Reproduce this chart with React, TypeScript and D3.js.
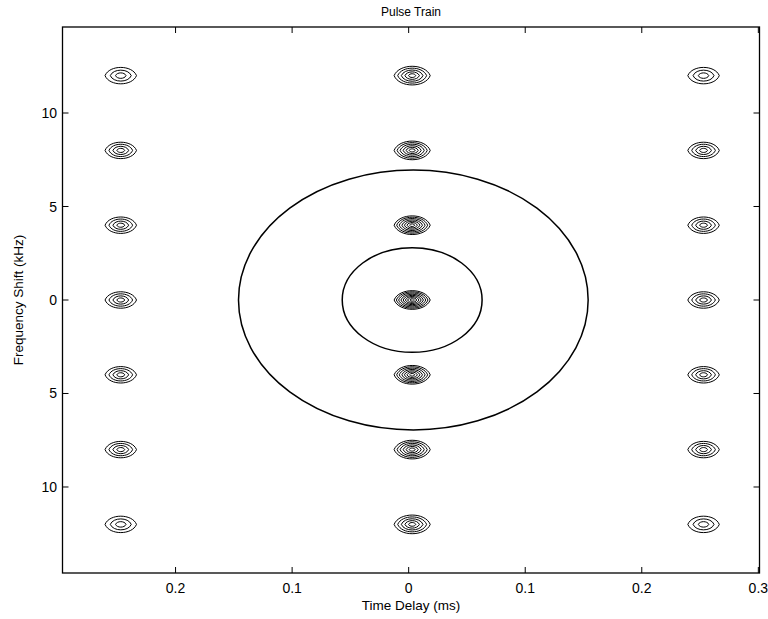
import React from "react";
import * as d3 from "d3";

// Pulse centers (time delay, ms) and frequency shifts (kHz)
const columnDelays = [-0.247, 0.003, 0.253];
const rowShifts = [12, 8, 4, 0, -4, -8, -12];
// Number of contour rings per eye: [column][row]
const ringCounts = [
  [3, 4, 4, 4, 4, 4, 3],
  [5, 6, 7, 8, 7, 6, 5],
  [3, 4, 4, 4, 4, 4, 3],
];
// Outer ring half-width (ms) and half-height (kHz) per column
const outerHalfWidth = [0.0135, 0.0155, 0.0135];
const outerHalfHeight = [0.44, 0.5, 0.44];

// Large contour ellipses: center delay, center shift, radius delay, radius shift
const ellipseCx = [0.004, 0.003];
const ellipseCy = [0, 0];
const ellipseRx = [0.15, 0.06];
const ellipseRy = [6.95, 2.8];

const xTicks = [-0.2, -0.1, 0, 0.1, 0.2, 0.3];
const xTickLabels = ["0.2", "0.1", "0", "0.1", "0.2", "0.3"];
const yTicks = [10, 5, 0, -5, -10];
const yTickLabels = ["10", "5", "0", "5", "10"];

const W = 768;
const H = 619;
const left = 62.5;
const right = 759.5;
const top = 27;
const bottom = 573;

export default function App() {
  const x = d3.scaleLinear().domain([-0.297, 0.301]).range([left, right]);
  const y = d3.scaleLinear().domain([-14.6, 14.6]).range([bottom, top]);
  const font = "'Liberation Sans', Arial, sans-serif";

  const eyePath = (cx: number, cy: number, hw: number, hh: number) => {
    const x0 = x(cx - hw);
    const x1 = x(cx + hw);
    const xc = x(cx);
    const yc = y(cy);
    const hpx = y(0) - y(hh);
    const p = d3.path();
    const k = 1.33;
    const c = 0.72;
    p.moveTo(x0, yc);
    p.bezierCurveTo(xc - (xc - x0) * c, yc - hpx * k, xc + (x1 - xc) * c, yc - hpx * k, x1, yc);
    p.bezierCurveTo(xc + (x1 - xc) * c, yc + hpx * k, xc - (xc - x0) * c, yc + hpx * k, x0, yc);
    p.closePath();
    return p.toString();
  };

  const eyes: JSX.Element[] = [];
  columnDelays.forEach((cx, ci) => {
    rowShifts.forEach((cy, ri) => {
      const n = ringCounts[ci][ri];
      for (let k = 1; k <= n; k++) {
        const f = k / n;
        eyes.push(
          <path
            key={`e-${ci}-${ri}-${k}`}
            d={eyePath(cx, cy, outerHalfWidth[ci] * f, outerHalfHeight[ci] * f)}
            fill="none"
            stroke="#000"
            strokeWidth={1}
          />
        );
      }
    });
  });

  return (
    <svg
      width={W}
      height={H}
      style={{ position: "absolute", left: 0, top: 0, background: "#fff" }}
      fontFamily={font}
    >
      <rect x={0} y={0} width={W} height={H} fill="#fff" />
      {eyes}
      {ellipseCx.map((cx, i) => (
        <ellipse
          key={`el-${i}`}
          cx={x(cx)}
          cy={y(ellipseCy[i])}
          rx={x(ellipseRx[i]) - x(0)}
          ry={y(0) - y(ellipseRy[i])}
          fill="none"
          stroke="#000"
          strokeWidth={1.5}
        />
      ))}
      <rect
        x={left}
        y={top}
        width={right - left}
        height={bottom - top}
        fill="none"
        stroke="#000"
        strokeWidth={1.3}
      />
      {xTicks.map((t, i) => (
        <g key={`xt-${i}`}>
          <line x1={x(t)} x2={x(t)} y1={bottom} y2={bottom - 6} stroke="#000" strokeWidth={1} />
          <line x1={x(t)} x2={x(t)} y1={top} y2={top + 6} stroke="#000" strokeWidth={1} />
          <text x={x(t)} y={593} fontSize={14} textAnchor="middle">
            {xTickLabels[i]}
          </text>
        </g>
      ))}
      {yTicks.map((t, i) => (
        <g key={`yt-${i}`}>
          <line x1={left} x2={left + 6} y1={y(t)} y2={y(t)} stroke="#000" strokeWidth={1} />
          <line x1={right} x2={right - 6} y1={y(t)} y2={y(t)} stroke="#000" strokeWidth={1} />
          <text x={57} y={y(t) + 5} fontSize={14} textAnchor="end">
            {yTickLabels[i]}
          </text>
        </g>
      ))}
      <text x={(left + right) / 2} y={16} fontSize={12} textAnchor="middle">
        Pulse Train
      </text>
      <text x={(left + right) / 2} y={610} fontSize={13.5} textAnchor="middle">
        Time Delay (ms)
      </text>
      <text
        transform={`translate(23, ${(top + bottom) / 2}) rotate(-90)`}
        fontSize={13.5}
        textAnchor="middle"
      >
        Frequency Shift (kHz)
      </text>
    </svg>
  );
}
